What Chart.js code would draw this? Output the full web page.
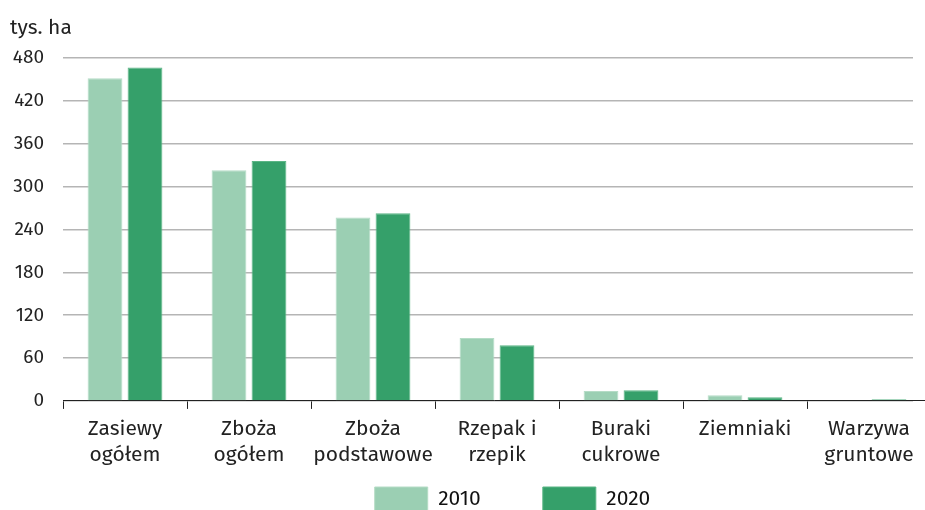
<!DOCTYPE html>
<html><head><meta charset="utf-8">
<script src="https://cdn.jsdelivr.net/npm/chart.js@4/dist/chart.umd.min.js"></script>
<style>html,body{margin:0;padding:0;background:#fff}#wrap{width:925px;height:510px}</style>
</head><body><div id="wrap"><canvas id="c" width="925" height="510"></canvas></div>
<script>
const categories = [["Zasiewy","ogółem"],["Zboża","ogółem"],["Zboża","podstawowe"],["Rzepak i","rzepik"],["Buraki","cukrowe"],["Ziemniaki"],["Warzywa","gruntowe"]];
const values2010 = [452, 323, 257, 88, 14, 8, 1];
const values2020 = [467, 336, 263, 78, 15, 5, 2.5];
const seriesLabels = ["2010", "2020"];
const yTicks = [0, 60, 120, 180, 240, 300, 360, 420, 480];
const unitLabel = "tys. ha";

const FONT = "'Fira Sans','Noto Sans','Open Sans',sans-serif";
const layoutTweak = {
  id: 'layoutTweak',
  afterLayout(chart) {
    const l = chart.legend;
    l.left += 51; l.right += 51;
    l.top += 11; l.bottom += 11;
    const x = chart.scales.x;
    x.right += 18; x.width = x.right - x.left;
    x.configure();
  }
};
new Chart(document.getElementById('c'), {
  type: 'bar',
  plugins: [layoutTweak],
  data: {
    labels: categories,
    datasets: [
      {label: seriesLabels[0], data: values2010, backgroundColor: '#9bcfb3', borderColor: '#b5dcc6', borderWidth: 1},
      {label: seriesLabels[1], data: values2020, backgroundColor: '#35a06a', borderColor: '#5bb585', borderWidth: 1}
    ]
  },
  options: {
    responsive: false,
    animation: false,
    layout: {padding: {left: 10, right: 12, top: 6, bottom: 0}},
    datasets: {bar: {categoryPercentage: 0.645, barPercentage: 0.87}},
    plugins: {
      title: {display: true, text: unitLabel, align: 'start', color: '#222', font: {family: FONT, size: 21, weight: 'normal'}, padding: {top: 10, bottom: 17}},
      legend: {position: 'bottom', labels: {boxWidth: 53, boxHeight: 24, color: '#111', font: {family: FONT, size: 21}, padding: 1,
        generateLabels(chart) {
          const items = Chart.defaults.plugins.legend.labels.generateLabels(chart);
          items[0].text = items[0].text + '           ';
          return items;
        }}},
      tooltip: {enabled: false}
    },
    scales: {
      x: {
        grid: {display: true, drawOnChartArea: false, offset: true, color: '#222', tickLength: 8, tickColor: '#222'},
        border: {display: true, color: '#222', width: 1},
        ticks: {color: '#222', font: {family: FONT, size: 21, lineHeight: 1.24}, padding: 7, maxRotation: 0, autoSkip: false}
      },
      y: {
        min: 0, max: 480,
        afterBuildTicks: (s) => { s.ticks = yTicks.map(v => ({value: v})); },
        afterFit: (s) => { s.width = 53; },
        grid: {color: '#b5b5b5', drawTicks: false, lineWidth: 1.5},
        border: {display: false},
        ticks: {color: '#222', font: {family: FONT, size: 19}, padding: 19}
      }
    }
  }
});
</script></body></html>
